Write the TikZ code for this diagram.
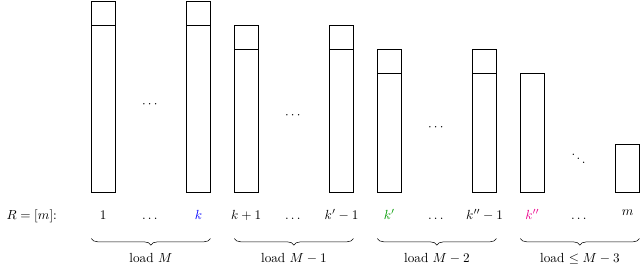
\documentclass[tikz,border=0pt]{standalone}
\usepackage{amsmath,amssymb}
\usepackage{xcolor}
\usetikzlibrary{decorations.pathreplacing, positioning}

\begin{document}
\begin{tikzpicture}[x=1.27cm,y=1.27cm,
  bar/.style={draw, line width=0.5pt},
  lbl/.style={anchor=base},
  grpbrace/.style={decorate, decoration={brace, mirror, amplitude=5pt}}]
\useasboundingbox (-1.915,-1.525) rectangle (11.51,4.034);
\foreach \x/\h/\c in {0/4/1, 2/4/1, 3/3.5/1, 5/3.5/1, 6/3/1, 8/3/1, 9/2.5/0, 11/1/0} {
  \draw[bar] (\x,0) rectangle (\x+0.5,\h);
  \ifnum\c=1 \draw[bar] (\x,\h-0.5) -- (\x+0.5,\h-0.5); \fi
}
\node (d1) at (1.25,1.85) {$\cdots$};
\node (d2) at (4.25,1.6) {$\cdots$};
\node (d3) at (7.25,1.35) {$\cdots$};
\node (d4) at (10.22,0.78) {$\ddots$};

\node[lbl] (r) at (-1.25,-0.56) {$R=[m]$:};
\node[lbl] (l1) at (0.25,-0.56) {$1$};
\node[lbl] (e1) at (1.25,-0.56) {$\dots$};
\node[lbl] (lk) at (2.25,-0.56) {$\color{blue}k$};
\node[lbl] (lk1) at (3.25,-0.56) {$k+1$};
\node[lbl] (e2) at (4.25,-0.56) {$\dots$};
\node[lbl] (lkp1) at (5.25,-0.56) {$k'-1$};
\node[lbl] (lkp) at (6.25,-0.56) {$\color{green!60!black}k'$};
\node[lbl] (e3) at (7.25,-0.56) {$\dots$};
\node[lbl] (lkpp1) at (8.25,-0.56) {$k''-1$};
\node[lbl] (lkpp) at (9.25,-0.56) {$\color{magenta}k''$};
\node[lbl] (e4) at (10.25,-0.56) {$\dots$};
\node[lbl] (lm) at (11.25,-0.48) {$m$};

\draw[grpbrace] (0,-0.97) -- (2.5,-0.97);
\draw[grpbrace] (3,-0.97) -- (5.5,-0.97);
\draw[grpbrace] (6,-0.97) -- (8.5,-0.97);
\draw[grpbrace] (9,-0.97) -- (11.5,-0.97);
\node[lbl] (g1) at (1.25,-1.48) {load $M$};
\node[lbl] (g2) at (4.25,-1.48) {load $M-1$};
\node[lbl] (g3) at (7.25,-1.48) {load $M-2$};
\node[lbl] (g4) at (10.25,-1.48) {load $\leq M-3$};
\end{tikzpicture}
\end{document}
